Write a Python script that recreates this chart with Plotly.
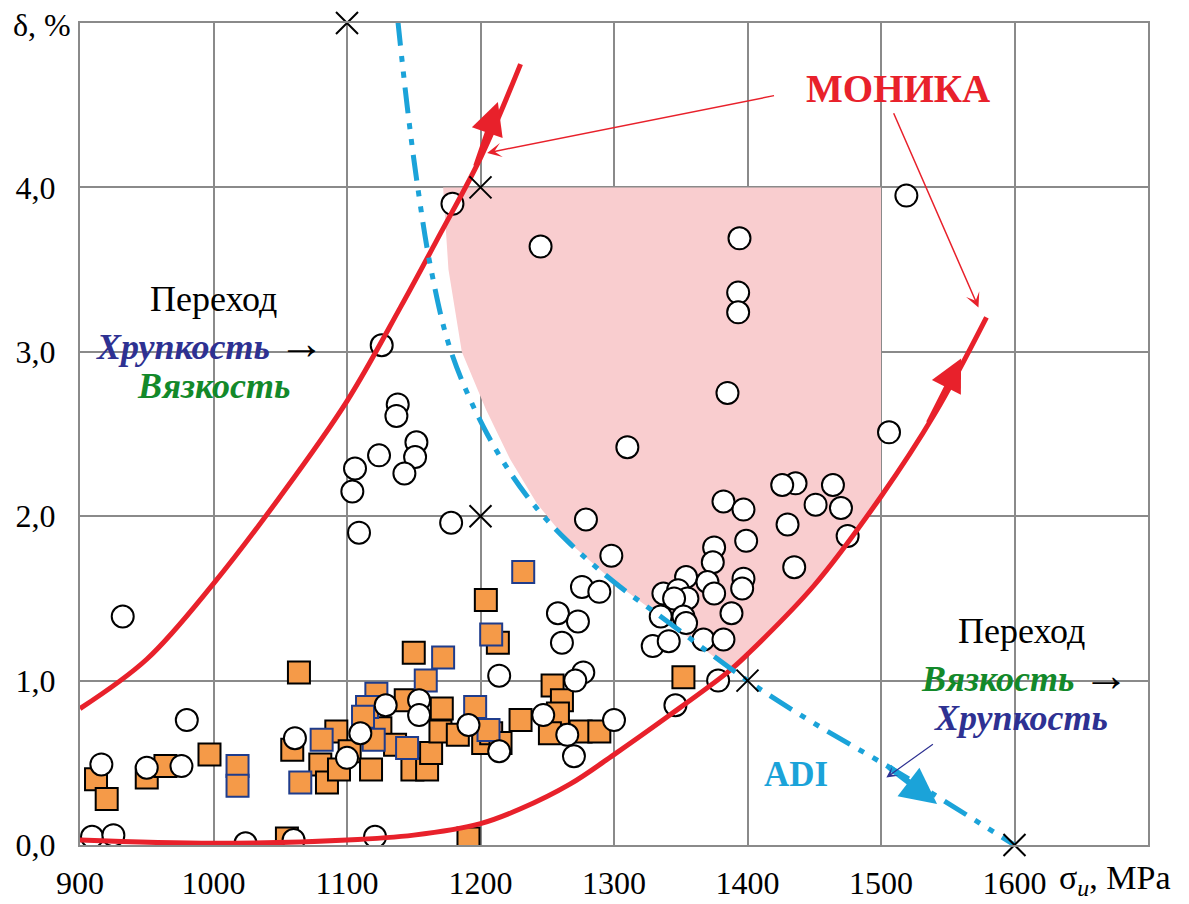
import plotly.graph_objects as go

# ---------------- data ----------------
circ_sigma = [1179,1245,1126,1138,1137,1152,1151,1143,1124,1106,1104,1109,1178,
              932,980,916,950,976,909,925,1024,1060,1121,1061,1100,1110,1129,1154,1154,1191,1214,1214,
              1279,1298,1276,1289,1258,1273,1261,1277,1271,1247,1265,1270,1300,1310,
              1382,1397,1430,1399,1435,1375,1374,1451,1470,1475,1464,1436,1426,1354,1337,1348,1355,1345,
              1370,1375,1397,1396,1388,1352,1354,1335,1329,1341,1367,1382,1378,1346,
              1394,1393,1393,1385,1519,1506]
circ_delta = [3.90,3.64,3.04,2.68,2.61,2.45,2.36,2.26,2.37,2.29,2.15,1.90,1.96,
              1.39,0.76,0.49,0.47,0.48,0.05,0.06,0.01,0.03,0.05,0.65,0.53,0.68,0.85,0.88,0.79,0.73,1.03,0.57,
              1.98,1.76,1.57,1.54,1.41,1.36,1.23,1.05,1.00,0.79,0.67,0.54,0.76,2.42,
              2.09,2.04,1.95,1.85,1.69,1.81,1.72,2.07,2.05,1.88,2.19,2.20,2.19,1.63,1.53,1.55,1.50,1.50,
              1.60,1.53,1.62,1.56,1.41,1.39,1.35,1.39,1.21,1.24,1.25,1.25,1.00,0.85,
              3.69,3.36,3.24,2.75,3.95,2.51]

sq_black_sigma = [912,920,950,964,997,1064,1059,1092,1080,1085,1094,1102,1118,1125,1136,1144,1150,1149,
                  1160,1163,1171,1170,1183,1204,1213,1202,1208,1191,1055,1352,1254,1261,1258,1230,1215,
                  1252,1275,1289]
sq_black_delta = [0.40,0.28,0.41,0.48,0.55,1.05,0.58,0.69,0.49,0.38,0.46,0.57,0.46,0.71,0.61,0.88,1.17,0.46,
                  0.46,0.56,0.83,0.69,0.67,1.49,1.23,0.62,0.68,0.04,0.04,1.02,0.97,0.88,0.80,0.76,0.62,
                  0.68,0.69,0.69]
sq_blue_sigma = [1018,1018,1065,1081,1122,1115,1112,1120,1172,1159,1145,1196,1208,1232,1206]
sq_blue_delta = [0.48,0.36,0.38,0.64,0.92,0.84,0.78,0.64,1.14,1.00,0.59,0.84,1.28,1.66,0.70]

x_sigma = [1100, 1200, 1200, 1400, 1600]
x_delta = [5.0, 4.0, 2.0, 1.0, 0.0]

upper_sigma = [900, 950, 1000, 1050, 1100, 1140, 1170, 1200, 1230]
upper_delta = [0.83, 1.13, 1.59, 2.12, 2.70, 3.27, 3.72, 4.18, 4.75]

lower_sigma = [900, 1000, 1100, 1150, 1200, 1230, 1267, 1300, 1340, 1385, 1400, 1450, 1500, 1540, 1579]
lower_delta = [0.03, 0.01, 0.03, 0.06, 0.13, 0.22, 0.37, 0.55, 0.78, 1.05, 1.16, 1.58, 2.12, 2.62, 3.21]

adi_sigma = [1138, 1145, 1153, 1163, 1178, 1205, 1235, 1265, 1300, 1340, 1400, 1450, 1513, 1600]
adi_delta = [5.02, 4.5, 4.0, 3.5, 3.0, 2.5, 2.12, 1.85, 1.60, 1.36, 1.0, 0.74, 0.44, 0.0]

zone_sigma = [1172, 1500, 1500, 1450, 1400, 1387, 1340, 1300, 1265, 1242, 1222, 1204, 1186, 1176, 1172]
zone_delta = [4.0, 4.0, 2.12, 1.58, 1.16, 1.07, 1.36, 1.60, 1.85, 2.08, 2.35, 2.65, 3.0, 3.5, 4.0]

x_ticks = [900, 1000, 1100, 1200, 1300, 1400, 1500, 1600]
y_ticks = [0, 1, 2, 3, 4]
y_ticktext = ["0,0", "1,0", "2,0", "3,0", "4,0"]

# ---------------- styles ----------------
FONT = "Liberation Serif"
RED = "#E8212B"
CYAN = "#1BA3D9"
PINK = "#F9CDCF"
ORANGE = "#F59A48"
NAVY = "#2E3192"
GREEN = "#13892A"
GRID = "#8A8A8A"

fig = go.Figure()

fig.add_trace(go.Scatter(x=zone_sigma, y=zone_delta, fill="toself", fillcolor=PINK,
                         line=dict(width=0), mode="lines", hoverinfo="skip"))

fig.add_trace(go.Scatter(x=sq_black_sigma, y=sq_black_delta, mode="markers",
                         marker=dict(symbol="square", size=22, color=ORANGE,
                                     line=dict(color="black", width=2))))
fig.add_trace(go.Scatter(x=sq_blue_sigma, y=sq_blue_delta, mode="markers",
                         marker=dict(symbol="square", size=22, color=ORANGE,
                                     line=dict(color="#1F3C8C", width=2))))
fig.add_trace(go.Scatter(x=circ_sigma, y=circ_delta, mode="markers",
                         marker=dict(symbol="circle", size=22, color="white",
                                     line=dict(color="black", width=2))))

fig.add_trace(go.Scatter(x=upper_sigma, y=upper_delta, mode="lines",
                         line=dict(color=RED, width=5, shape="spline")))
fig.add_trace(go.Scatter(x=lower_sigma, y=lower_delta, mode="lines",
                         line=dict(color=RED, width=5, shape="spline")))
fig.add_trace(go.Scatter(x=adi_sigma, y=adi_delta, mode="lines",
                         line=dict(color=CYAN, width=5, shape="spline",
                                   dash="26px,10px,6px,10px,6px,10px")))

fig.add_trace(go.Scatter(x=x_sigma, y=x_delta, mode="markers", cliponaxis=False,
                         marker=dict(symbol="x-thin", size=22, color="black",
                                     line=dict(color="black", width=2))))

ann = []
# curve arrowheads
ann.append(dict(x=1213, y=4.52, ax=1196, ay=4.12, xref="x", yref="y", axref="x", ayref="y",
                showarrow=True, arrowhead=2, arrowsize=1.3, arrowwidth=5, arrowcolor=RED, text=""))
ann.append(dict(x=1560, y=2.96, ax=1535, ay=2.56, xref="x", yref="y", axref="x", ayref="y",
                showarrow=True, arrowhead=2, arrowsize=1.3, arrowwidth=5, arrowcolor=RED, text=""))
ann.append(dict(x=1542, y=0.25, ax=1505, ay=0.48, xref="x", yref="y", axref="x", ayref="y",
                showarrow=True, arrowhead=2, arrowsize=1.2, arrowwidth=6, arrowcolor=CYAN, text=""))
# MOHИKA pointers
ann.append(dict(x=1205, y=4.21, ax=1421, ay=4.56, xref="x", yref="y", axref="x", ayref="y",
                showarrow=True, arrowhead=3, arrowsize=1.6, arrowwidth=1.5, arrowcolor=RED, text=""))
ann.append(dict(x=1573, y=3.27, ax=1509, ay=4.46, xref="x", yref="y", axref="x", ayref="y",
                showarrow=True, arrowhead=3, arrowsize=1.6, arrowwidth=1.5, arrowcolor=RED, text=""))
ann.append(dict(x=1504, y=0.41, ax=1540, ay=0.62, xref="x", yref="y", axref="x", ayref="y",
                showarrow=True, arrowhead=3, arrowsize=1.5, arrowwidth=1.2, arrowcolor=NAVY, text=""))
# texts
TS = 36
ARROW = "<span style='font-size:46px'>→</span>"
ann.append(dict(x=1513, y=4.6, xref="x", yref="y", showarrow=False, text="<b>МОНИКА</b>",
                font=dict(family=FONT, size=39, color=RED)))
ann.append(dict(x=1436, y=0.43, xref="x", yref="y", showarrow=False, text="<b>ADI</b>",
                font=dict(family=FONT, size=35, color=CYAN)))
ann.append(dict(x=1000, y=3.32, xref="x", yref="y", showarrow=False, text="Переход",
                font=dict(family=FONT, size=TS, color="black")))
ann.append(dict(x=998, y=3.05, xref="x", yref="y", showarrow=False,
                text="<b><i><span style='color:%s'>Хрупкость</span></i></b> %s" % (NAVY, ARROW),
                font=dict(family=FONT, size=TS, color="black")))
ann.append(dict(x=1000, y=2.79, xref="x", yref="y", showarrow=False,
                text="<b><i>Вязкость</i></b>", font=dict(family=FONT, size=TS, color=GREEN)))
ann.append(dict(x=1605, y=1.30, xref="x", yref="y", showarrow=False, text="Переход",
                font=dict(family=FONT, size=TS, color="black")))
ann.append(dict(x=1608, y=1.03, xref="x", yref="y", showarrow=False,
                text="<b><i><span style='color:%s'>Вязкость</span></i></b> %s" % (GREEN, ARROW),
                font=dict(family=FONT, size=TS, color="black")))
ann.append(dict(x=1605, y=0.77, xref="x", yref="y", showarrow=False,
                text="<b><i>Хрупкость</i></b>", font=dict(family=FONT, size=TS, color=NAVY)))
# axis labels (paper coordinates)
ann.append(dict(x=-0.036, y=0.997, xref="paper", yref="paper", showarrow=False, text="δ, %",
                xanchor="center", yanchor="middle",
                font=dict(family=FONT, size=32, color="black")))
ann.append(dict(x=0.969, y=-0.043, xref="paper", yref="paper", showarrow=False,
                text="σ<sub><i>u</i></sub>, MPa", xanchor="center", yanchor="middle",
                font=dict(family=FONT, size=34, color="black")))

fig.update_layout(
    width=1181, height=896,
    margin=dict(l=72, r=41, t=15, b=59),
    paper_bgcolor="white", plot_bgcolor="white",
    showlegend=False,
    annotations=ann,
    font=dict(family=FONT, size=32, color="black"),
)
fig.update_xaxes(range=[900, 1700], tickvals=x_ticks, ticktext=[str(v) for v in x_ticks],
                 showgrid=True, gridcolor=GRID, gridwidth=2, zeroline=False,
                 showline=True, linecolor=GRID, linewidth=2, mirror=True, automargin=False,
                 ticks="", ticklabelstandoff=9, tickfont=dict(family=FONT, size=32))
fig.update_yaxes(range=[0, 5], tickvals=y_ticks, ticktext=y_ticktext,
                 showgrid=True, gridcolor=GRID, gridwidth=2, zeroline=False,
                 showline=True, linecolor=GRID, linewidth=2, mirror=True, automargin=False,
                 ticks="", ticklabelstandoff=16, tickfont=dict(family=FONT, size=32))

fig.write_html("out.html")
